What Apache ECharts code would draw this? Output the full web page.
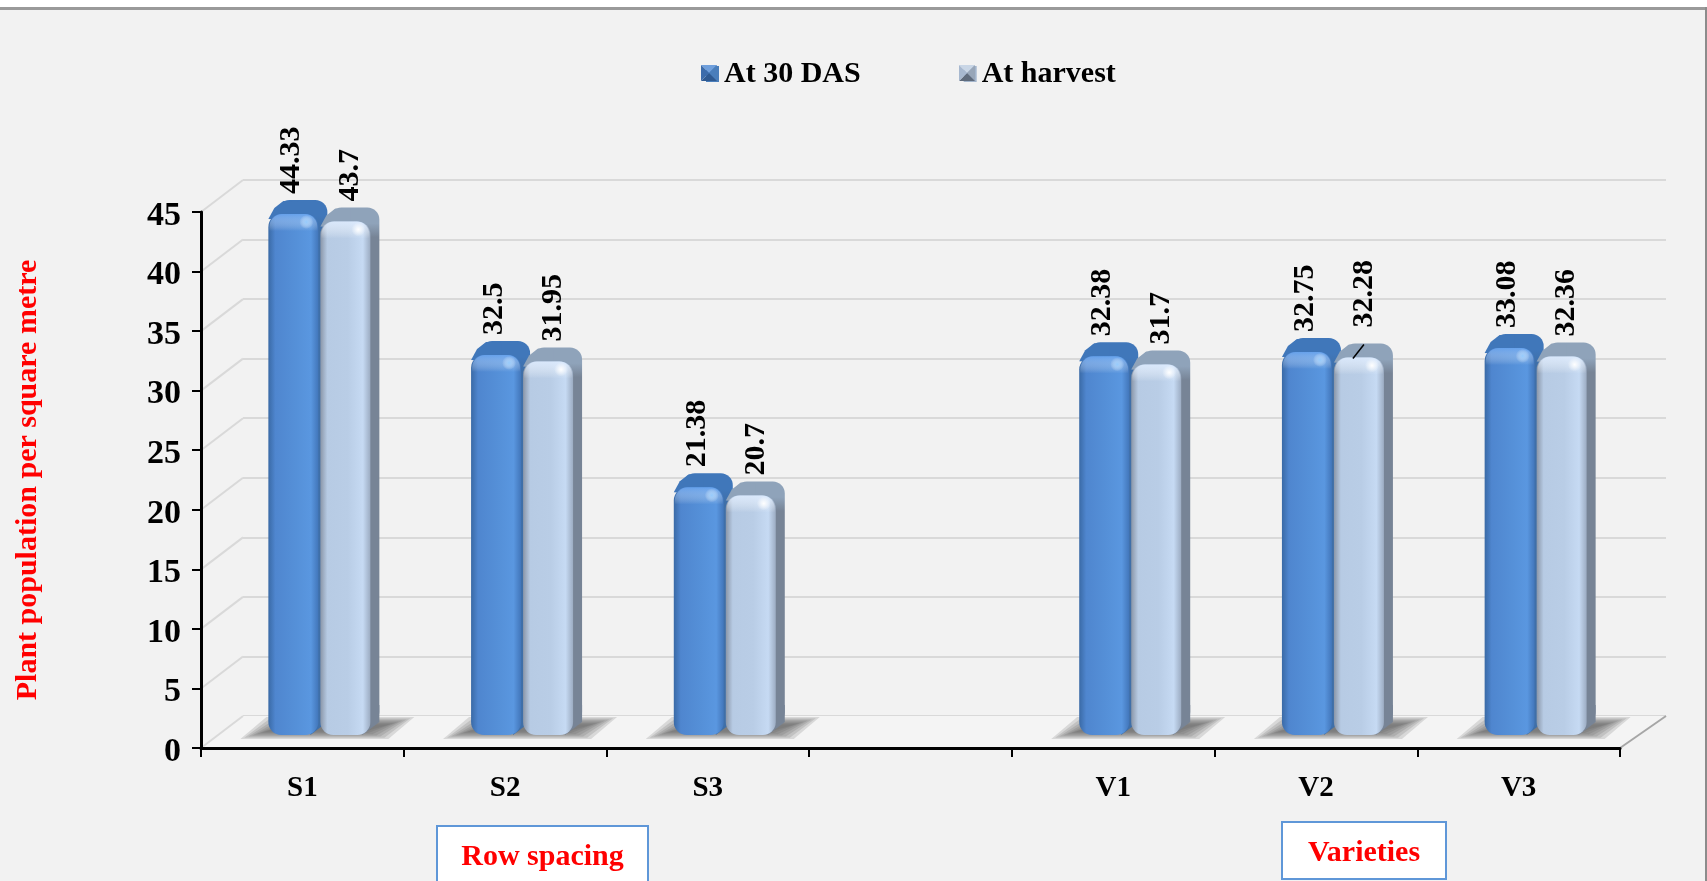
<!DOCTYPE html>
<html>
<head>
<meta charset="utf-8">
<title>Plant population per square metre</title>
<style>
    html, body { margin: 0; padding: 0; background: #f2f2f2; }
    #chart { width: 1707px; height: 881px; }
</style>
<script src="https://cdn.jsdelivr.net/npm/echarts@6/dist/echarts.min.js"></script>
</head>
<body>
<div id="chart"></div>
<script>
// 数据
const categories = ['S1', 'S2', 'S3', '', 'V1', 'V2', 'V3']
const at30Das = [44.33, 32.5, 21.38, null, 32.38, 32.75, 33.08]
const atHarvest = [43.7, 31.95, 20.7, null, 31.7, 32.28, 32.36]
const yTicks = [0, 5, 10, 15, 20, 25, 30, 35, 40, 45]

const serif = '"Liberation Serif", "Times New Roman", serif'
const gridColor = '#d9d9d9'
// 三维背景墙的偏移
const wallDx = 42
const wallDy = 32
// 柱子底部离前沿的距离
const barLift = 13

const blueLook = {
    barDx: -34,
    labelDx: -11,
    side: '#3f6fa8',
    top: '#4077ba',
    front: ['#3a6aa6', '#4f86cf', '#5590d8', '#5a97e0', '#4276ba'],
    bevel: 'rgba(105,165,240,0.8)',
    spot: 'rgba(150,205,255,0.9)'
}
const lightLook = {
    barDx: 18,
    labelDx: 48,
    side: '#778496',
    top: '#8fa3ba',
    front: ['#8a96a8', '#b7cbe4', '#b9cde6', '#c6daf3', '#9cacc2'],
    bevel: 'rgba(222,236,255,0.85)',
    spot: 'rgba(255,255,255,1)'
}

function toPoints(values) {
    return values.map((v, i) => [i, v]).filter(d => d[1] !== null)
}

function renderBar(look, seriesIndex) {
    return function (params, api) {
        const c = api.coord([api.value(0), 0])[0]
        const yTop = api.coord([0, api.value(1)])[1] - barLift
        const yBot = api.coord([0, 0])[1] - barLift
        const x0 = c + look.barDx
        const x1 = x0 + 50
        const h = yBot - yTop
        const children = [
            // 后侧面
            {
                type: 'rect',
                shape: { x: x0 + 9, y: yTop - 7, width: 50, height: h - 4, r: 12 },
                style: {
                    fill: new echarts.graphic.LinearGradient(0, 0, 0, 1, [
                        { offset: 0, color: look.top },
                        { offset: 16 / h, color: look.top },
                        { offset: 30 / h, color: look.side },
                        { offset: 1, color: look.side }
                    ])
                }
            },
            {
                type: 'polygon',
                shape: { points: [[x0, yTop + 12], [x0 + 6, yTop + 1], [x0 + 15, yTop - 6], [x0 + 30, yTop - 5], [x0 + 30, yTop + 14]] },
                style: { fill: look.top }
            },
            {
                type: 'polygon',
                shape: { points: [[x1 - 8, yBot], [x1 + 9, yBot - 13], [x1 + 9, yBot - 30], [x1 - 8, yBot - 30]] },
                style: { fill: look.side }
            },
            // 正面
            {
                type: 'rect',
                shape: { x: x0, y: yTop + 7, width: 50, height: h - 7, r: 13 },
                style: {
                    fill: new echarts.graphic.LinearGradient(0, 0, 1, 0, [
                        { offset: 0, color: look.front[0] },
                        { offset: 0.14, color: look.front[1] },
                        { offset: 0.55, color: look.front[2] },
                        { offset: 0.85, color: look.front[3] },
                        { offset: 1, color: look.front[4] }
                    ])
                }
            },
            {
                type: 'rect',
                shape: { x: x0 + 1, y: yTop + 7, width: 48, height: 17, r: [13, 13, 0, 0] },
                style: {
                    fill: new echarts.graphic.LinearGradient(0, 0, 0, 1, [
                        { offset: 0, color: look.bevel },
                        { offset: 1, color: 'rgba(255,255,255,0)' }
                    ])
                }
            },
            {
                type: 'circle',
                shape: { cx: x1 - 12, cy: yTop + 15, r: 7 },
                style: {
                    fill: new echarts.graphic.RadialGradient(0.5, 0.5, 0.5, [
                        { offset: 0, color: look.spot },
                        { offset: 1, color: 'rgba(255,255,255,0)' }
                    ])
                }
            }
        ]
        // V2 的收获期标签被手动抬高，并带一条引线
        const lifted = seriesIndex === 1 && api.value(0) === 5
        const labelX = c + look.labelDx
        const labelY = yTop - 13 - (lifted ? 10 : 0)
        if (lifted) {
            children.push({
                type: 'line',
                shape: { x1: labelX - 11, y1: yTop + 8, x2: labelX, y2: yTop - 6 },
                style: { stroke: '#000', lineWidth: 1.5 }
            })
        }
        children.push({
            type: 'text',
            x: labelX,
            y: labelY,
            rotation: Math.PI / 2,
            style: {
                text: String(api.value(1)),
                font: 'bold 30px ' + serif,
                fill: '#000',
                align: 'left',
                verticalAlign: 'middle'
            }
        })
        return { type: 'group', children: children }
    }
}

// 地板
function renderFloor(params, api) {
    const cs = params.coordSys
    const y = api.coord([0, 0])[1]
    return {
        type: 'polygon',
        shape: {
            points: [
                [cs.x, y],
                [cs.x + wallDx, y - wallDy],
                [cs.x + cs.width + wallDx + 4, y - wallDy],
                [cs.x + cs.width, y]
            ]
        },
        style: { fill: '#f4f4f4' }
    }
}

// 地板右侧边线
function renderFloorEdge(params, api) {
    const cs = params.coordSys
    const y = api.coord([0, 0])[1]
    return {
        type: 'line',
        shape: { x1: cs.x + cs.width, y1: y, x2: cs.x + cs.width + wallDx + 4, y2: y - wallDy },
        style: { stroke: '#a6a6a6', lineWidth: 2 }
    }
}

// 左侧墙的斜线
function renderSlant(params, api) {
    const p = api.coord([0, api.value(0)])
    const x = params.coordSys.x
    return {
        type: 'line',
        shape: { x1: x, y1: p[1], x2: x + wallDx, y2: p[1] - wallDy },
        style: { stroke: gridColor, lineWidth: 2 }
    }
}

// 柱子在地板上的阴影，多层叠加出柔和边缘
function renderShadow(params, api) {
    const c = api.coord([api.value(0), 0])[0]
    const y = api.coord([0, 0])[1]
    const layers = []
    for (let k = 0; k < 7; k++) {
        const dx = k * 4
        const dy = k * 1.2
        layers.push({
            type: 'polygon',
            shape: {
                points: [
                    [c - 62 + dx, y - 9 - dy],
                    [c - 36 + dx, y - 31 + dy],
                    [c + 112 - dx, y - 31 + dy],
                    [c + 86 - dx, y - 9 - dy]
                ]
            },
            style: { fill: 'rgba(90,90,90,0.18)' }
        })
    }
    return { type: 'group', children: layers }
}

function pyramid(x, y, s, colors) {
    const m = [x + s / 2, y + s / 2]
    const corners = [[x, y], [x + s, y], [x + s, y + s], [x, y + s]]
    return colors.map((color, i) => ({
        type: 'polygon',
        z: 20,
        shape: { points: [corners[i], corners[(i + 1) % 4], m] },
        style: { fill: color }
    }))
}

function noteBox(x, y, width, height, text) {
    return [
        {
            type: 'rect',
            z: 20,
            shape: { x: x, y: y, width: width, height: height },
            style: { fill: '#fff', stroke: '#5f97d8', lineWidth: 2 }
        },
        {
            type: 'text',
            z: 21,
            x: x + width / 2,
            y: y + 31,
            style: {
                text: text,
                font: 'bold 30px ' + serif,
                fill: '#f00',
                align: 'center',
                verticalAlign: 'middle'
            }
        }
    ]
}

const chart = echarts.init(document.getElementById('chart'))
chart.setOption({
    backgroundColor: '#f2f2f2',
    animation: false,
    legend: {
        data: ['At 30 DAS', 'At harvest'],
        left: 701,
        top: 54,
        itemWidth: 13,
        itemHeight: 16,
        itemGap: 103,
        icon: 'rect',
        selectedMode: false,
        textStyle: { fontFamily: serif, fontWeight: 'bold', fontSize: 30, color: '#000' }
    },
    grid: [
        { left: 201, right: 87, top: 212, bottom: 133, outerBoundsMode: 'none' },
        { left: 243, right: 41, top: 180, bottom: 165, outerBoundsMode: 'none' }
    ],
    xAxis: [
        {
            type: 'category',
            data: categories,
            z: 10,
            axisLine: { lineStyle: { color: '#000', width: 3 } },
            axisTick: { show: true, interval: 0, length: 9, lineStyle: { color: '#000', width: 2 } },
            axisLabel: { interval: 0, margin: 26, color: '#000', fontFamily: serif, fontWeight: 'bold', fontSize: 29 }
        },
        {
            type: 'category',
            gridIndex: 1,
            data: categories,
            axisLine: { show: false },
            axisTick: { show: false },
            axisLabel: { show: false }
        }
    ],
    yAxis: [
        {
            type: 'value',
            min: 0,
            max: 45,
            interval: 5,
            z: 10,
            name: 'Plant population per square metre',
            nameLocation: 'middle',
            nameRotate: 90,
            nameGap: 158,
            nameTextStyle: { color: '#f00', fontFamily: serif, fontWeight: 'bold', fontSize: 30 },
            axisLine: { show: true, lineStyle: { color: '#000', width: 3 } },
            axisTick: { show: true, length: 9, lineStyle: { color: '#000', width: 2 } },
            // 标签比刻度略低
            axisLabel: { margin: 20, verticalAlign: 'top', padding: [-13, 0, 0, 0], color: '#000', fontFamily: serif, fontWeight: 'bold', fontSize: 34 },
            splitLine: { show: false }
        },
        {
            type: 'value',
            gridIndex: 1,
            min: 0,
            max: 45,
            interval: 5,
            axisLine: { show: false },
            axisTick: { show: false },
            axisLabel: { show: false },
            splitLine: { show: true, lineStyle: { color: gridColor, width: 2 } }
        }
    ],
    series: [
        {
            type: 'custom',
            silent: true,
            z: 1,
            renderItem: renderFloor,
            data: [[0]]
        },
        {
            type: 'custom',
            silent: true,
            z: 1,
            renderItem: renderSlant,
            encode: { y: 0 },
            data: yTicks.map(v => [v])
        },
        {
            type: 'custom',
            silent: true,
            z: 1,
            renderItem: renderFloorEdge,
            data: [[0]]
        },
        {
            type: 'custom',
            silent: true,
            z: 2,
            renderItem: renderShadow,
            encode: { x: 0, y: 1 },
            data: toPoints(at30Das)
        },
        {
            name: 'At 30 DAS',
            type: 'custom',
            z: 5,
            itemStyle: { color: '#4a7ebb' },
            renderItem: renderBar(blueLook, 0),
            encode: { x: 0, y: 1 },
            data: toPoints(at30Das)
        },
        {
            name: 'At harvest',
            type: 'custom',
            z: 6,
            itemStyle: { color: '#a3b5cc' },
            renderItem: renderBar(lightLook, 1),
            encode: { x: 0, y: 1 },
            data: toPoints(atHarvest)
        }
    ],
    graphic: [
        // 外框
        { type: 'rect', z: 19, shape: { x: 0, y: 0, width: 1707, height: 7 }, style: { fill: '#fff' } },
        { type: 'rect', z: 19, shape: { x: 0, y: 7, width: 1707, height: 3 }, style: { fill: '#9a9a9a' } },
        { type: 'rect', z: 19, shape: { x: 1705, y: 7, width: 2, height: 874 }, style: { fill: '#8c8c8c' } },
        ...pyramid(701, 65, 16, ['#6f9fdc', '#4a7ebb', '#2f5a92', '#3c6cab']),
        ...pyramid(959, 65, 16, ['#c9d6e6', '#98a6b8', '#5f6b7c', '#a7b8cf']),
        ...noteBox(437, 826, 211, 70, 'Row spacing'),
        ...noteBox(1282, 822, 164, 57, 'Varieties')
    ]
})
</script>
</body>
</html>
